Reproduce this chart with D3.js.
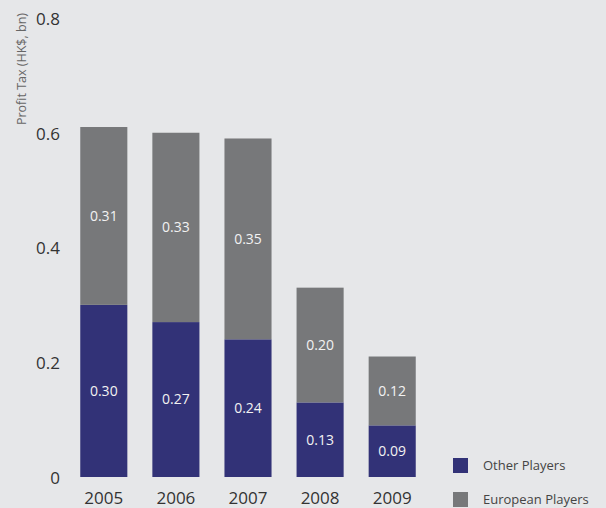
<!DOCTYPE html>
<html>
<head>
<meta charset="utf-8">
<script src="https://cdn.jsdelivr.net/npm/d3@7/dist/d3.min.js"></script>
<style>
  html, body { margin: 0; padding: 0; background: #e6e7e9; }
  svg { display: block; font-family: "Open Sans", Lato, sans-serif; }
</style>
</head>
<body>
<svg id="chart" width="606" height="508"></svg>
<script>
// Profit tax by player group, HK$ bn
const years = ["2005", "2006", "2007", "2008", "2009"];
const otherPlayers = [0.30, 0.27, 0.24, 0.13, 0.09];
const europeanPlayers = [0.31, 0.33, 0.35, 0.20, 0.12];
const yTicks = [0, 0.2, 0.4, 0.6, 0.8];
const seriesNames = ["Other Players", "European Players"];
const seriesColors = ["#323277", "#77787a"];

const svg = d3.select("#chart");

const x = d3.scaleBand().domain(years).range([68, 428]).paddingInner(0.347).paddingOuter(0.17);
const y = d3.scaleLinear().domain([0, 0.8]).range([477, 18]);

const rows = years.map((yr, i) => ({ year: yr, other: otherPlayers[i], european: europeanPlayers[i] }));
const stacked = d3.stack().keys(["other", "european"])(rows);

// y tick labels
svg.append("g").selectAll("text").data(yTicks).join("text")
  .attr("x", 60).attr("y", d => y(d) + 1).attr("dy", "0.35em")
  .attr("text-anchor", "end").attr("font-size", 17).attr("fill", "#333")
  .text(d => d === 0 ? "0" : d3.format(".1f")(d));

// axis title
svg.append("text")
  .attr("transform", "translate(26,13) rotate(-90)")
  .attr("text-anchor", "end").attr("font-size", 12.5).attr("fill", "#666")
  .text("Profit Tax (HK$, bn)");

// stacked bars
const layers = svg.append("g").selectAll("g").data(stacked).join("g")
  .attr("fill", (d, i) => seriesColors[i]);
layers.selectAll("rect").data(d => d).join("rect")
  .attr("x", d => x(d.data.year)).attr("width", x.bandwidth())
  .attr("y", d => y(d[1])).attr("height", d => y(d[0]) - y(d[1]));

// segment value labels
layers.selectAll("text").data(d => d.map(s => ({ s, v: s[1] - s[0] }))).join("text")
  .attr("x", d => x(d.s.data.year) + x.bandwidth() / 2)
  .attr("y", d => (y(d.s[0]) + y(d.s[1])) / 2).attr("dy", "0.35em")
  .attr("text-anchor", "middle").attr("font-size", 14).attr("fill", "#f2f2f2")
  .text(d => d3.format(".2f")(d.v));

// year labels
svg.append("g").selectAll("text").data(years).join("text")
  .attr("x", d => x(d) + x.bandwidth() / 2).attr("y", 504)
  .attr("text-anchor", "middle").attr("font-size", 17).attr("fill", "#333")
  .text(d => d);

// legend
const legend = svg.append("g").selectAll("g").data(seriesNames).join("g")
  .attr("transform", (d, i) => `translate(453,${458 + i * 34})`);
legend.append("rect").attr("width", 15).attr("height", 15).attr("fill", (d, i) => seriesColors[i]);
legend.append("text").attr("x", 30).attr("y", 7.5).attr("dy", "0.35em")
  .attr("font-size", 13).attr("fill", "#444").text(d => d);
</script>
</body>
</html>
